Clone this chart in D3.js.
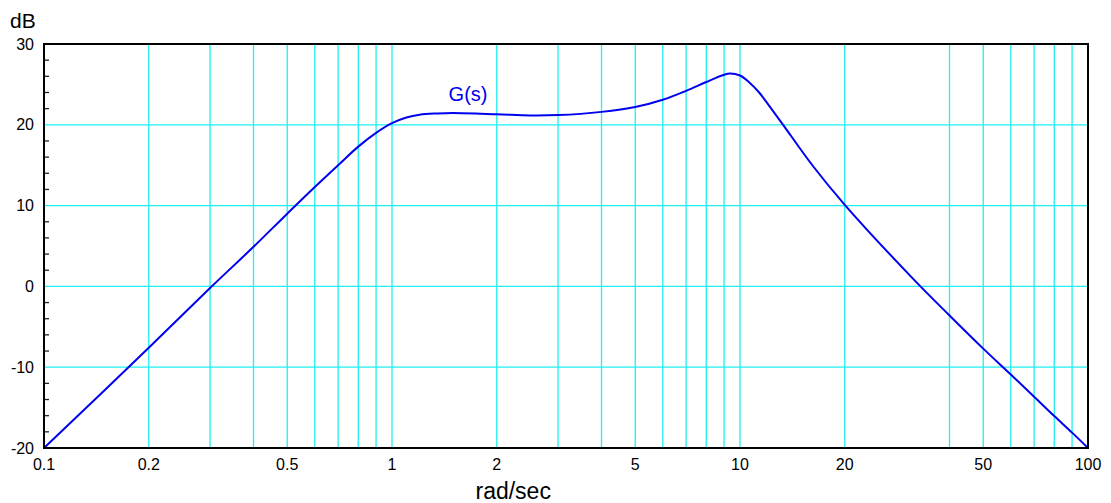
<!DOCTYPE html>
<html>
<head>
<meta charset="utf-8">
<script src="https://cdn.jsdelivr.net/npm/d3@7"></script>
<style>
  html, body { margin: 0; padding: 0; background: #fff; }
  svg { display: block; }
  text { font-family: "Liberation Sans", Arial, Helvetica, sans-serif; }
</style>
</head>
<body>
<svg id="chart" width="1111" height="503"></svg>
<script>
// Frequencies (rad/sec) and magnitude (dB)
const freq = [0.1, 0.2, 0.3, 0.4, 0.5, 0.6, 0.7, 0.8, 0.9, 1.0, 1.1, 1.2, 1.35, 1.5, 2, 2.5, 3, 4, 5, 6, 7, 8, 9, 9.35, 10, 10.6, 11.35, 12.3, 13.3, 16.2, 20, 31.5, 40, 50, 60, 70, 80, 90, 100];
const gainDb = [-20, -7.6, -0.2, 4.9, 9.0, 12.3, 15.0, 17.3, 19.0, 20.2, 20.9, 21.25, 21.4, 21.45, 21.3, 21.15, 21.2, 21.6, 22.2, 23.1, 24.2, 25.3, 26.2, 26.35, 26.1, 25.3, 24.0, 22.0, 20.0, 14.9, 10.1, 0.9, -3.6, -7.7, -10.9, -13.65, -16.05, -18.1, -20];

const xTickLabels = [0.1, 0.2, 0.5, 1, 2, 5, 10, 20, 50, 100];
const xGridLines = [0.2, 0.3, 0.4, 0.5, 0.6, 0.7, 0.8, 0.9, 1, 2, 3, 4, 5, 6, 7, 8, 9, 10, 20, 40, 50, 60, 70, 80, 90];
const yTickLabels = [-20, -10, 0, 10, 20, 30];
const yGridLines = [-10, 0, 10, 20];
const yMinorTicks = [-18, -16, -14, -12, -8, -6, -4, -2, 2, 4, 6, 8, 12, 14, 16, 18, 22, 24, 26, 28];
const seriesName = "G(s)";
const xTitle = "rad/sec";
const yTitle = "dB";

const margin = { left: 44, top: 44, right: 23, bottom: 55 };
const W = 1111, H = 503;
const iw = W - margin.left - margin.right;
const ih = H - margin.top - margin.bottom;

const svg = d3.select("#chart");
const g = svg.append("g").attr("transform", `translate(${margin.left},${margin.top})`);

const x = d3.scaleLog().domain([0.1, 100]).range([0, iw]);
const y = d3.scaleLinear().domain([-20, 30]).range([ih, 0]);

const gridColor = "#1ef0f0";

// vertical grid
g.append("g").selectAll("line").data(xGridLines).join("line")
  .attr("x1", d => x(d)).attr("x2", d => x(d))
  .attr("y1", 0).attr("y2", ih)
  .attr("stroke", gridColor).attr("stroke-width", 1.3);

// horizontal grid
g.append("g").selectAll("line").data(yGridLines).join("line")
  .attr("x1", 0).attr("x2", iw)
  .attr("y1", d => y(d)).attr("y2", d => y(d))
  .attr("stroke", gridColor).attr("stroke-width", 1.3);

// curve
const pts = freq.map((f, i) => [f, gainDb[i]]);
const line = d3.line()
  .x(d => x(d[0])).y(d => y(d[1]))
  .curve(d3.curveCatmullRom.alpha(0.5));
g.append("path").datum(pts)
  .attr("d", line)
  .attr("fill", "none")
  .attr("stroke", "#0000f0")
  .attr("stroke-width", 2);

// minor ticks on left axis (inward)
g.append("g").selectAll("line").data(yMinorTicks).join("line")
  .attr("x1", 0).attr("x2", 5)
  .attr("y1", d => y(d)).attr("y2", d => y(d))
  .attr("stroke", "#222").attr("stroke-width", 1.3);

// frame
g.append("rect")
  .attr("x", 0).attr("y", 0).attr("width", iw).attr("height", ih)
  .attr("fill", "none").attr("stroke", "#000").attr("stroke-width", 2);

// y tick labels
g.append("g").selectAll("text").data(yTickLabels).join("text")
  .attr("x", -10).attr("y", d => y(d))
  .attr("dy", "0.35em")
  .attr("text-anchor", "end")
  .attr("font-size", 16)
  .attr("fill", "#000")
  .text(d => d);

// x tick labels
g.append("g").selectAll("text").data(xTickLabels).join("text")
  .attr("x", d => x(d)).attr("y", ih + 22)
  .attr("text-anchor", "middle")
  .attr("font-size", 16)
  .attr("fill", "#000")
  .text(d => d);

// axis titles
svg.append("text")
  .attr("x", 10).attr("y", 28)
  .attr("font-size", 21)
  .attr("fill", "#000")
  .text(yTitle);

svg.append("text")
  .attr("x", margin.left + x(2.23)).attr("y", 499)
  .attr("text-anchor", "middle")
  .attr("font-size", 23)
  .attr("fill", "#000")
  .text(xTitle);

// series label
g.append("text")
  .attr("x", x(1.654)).attr("y", y(23.0))
  .attr("text-anchor", "middle")
  .attr("font-size", 20)
  .attr("fill", "#0000f0")
  .text(seriesName);
</script>
</body>
</html>
